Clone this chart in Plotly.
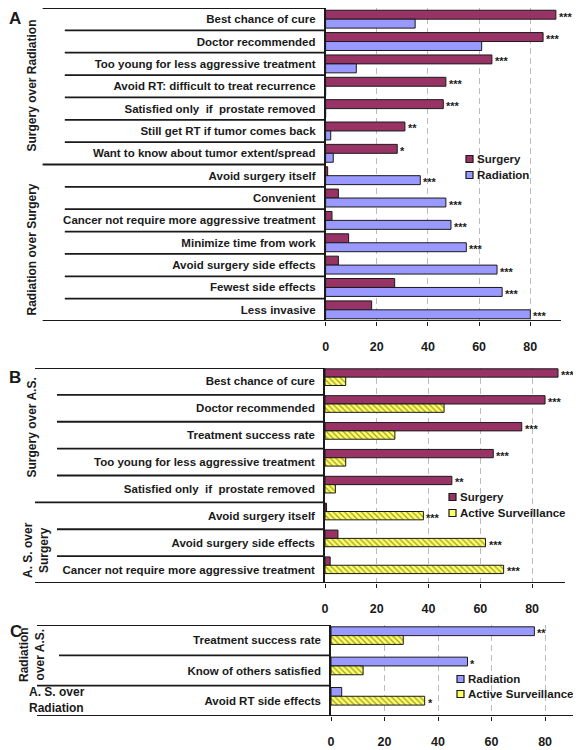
import plotly.graph_objects as go

# The page body has an 8px default margin, so the figure is drawn 8px in from the window edge.
PAGE_W, PAGE_H, BODY = 581, 750, 8
W, H = PAGE_W - BODY, PAGE_H - BODY
FONT = "Liberation Sans, Arial, sans-serif"
INK = "#1a1a1a"
SURG = "#993366"
RAD = "#9999FF"
ASC = "#FFFF66"

# ---------------- data ----------------
x_ticks = [0, 20, 40, 60, 80]

# Panel A: Surgery vs Radiation
a_cats = ["Best chance of cure", "Doctor recommended", "Too young for less aggressive treatment",
          "Avoid RT: difficult to treat recurrence", "Satisfied only  if  prostate removed",
          "Still get RT if tumor comes back", "Want to know about tumor extent/spread",
          "Avoid surgery itself", "Convenient", "Cancer not require more aggressive treatment",
          "Minimize time from work", "Avoid surgery side effects", "Fewest side effects", "Less invasive"]
a_surgery = [90, 85, 65, 47, 46, 31, 28, 0.8, 5, 2.5, 9, 5, 27, 18]
a_radiation = [35, 61, 12, 0, 0, 2, 3, 37, 47, 49, 55, 67, 69, 80]
a_surgery_sig = ["***", "***", "***", "***", "***", "**", "*", "", "", "", "", "", "", ""]
a_radiation_sig = ["", "", "", "", "", "", "", "***", "***", "***", "***", "***", "***", "***"]
a_groups = ["Surgery over Radiation", "Radiation over Surgery"]
a_group_sizes = [7, 7]

# Panel B: Surgery vs Active Surveillance
b_cats = ["Best chance of cure", "Doctor recommended", "Treatment success rate",
          "Too young for less aggressive treatment", "Satisfied only  if  prostate removed",
          "Avoid surgery itself", "Avoid surgery side effects", "Cancer not require more aggressive treatment"]
b_surgery = [90, 85, 76, 65, 49, 0.6, 5, 2]
b_as = [8, 46, 27, 8, 4, 38, 62, 69]
b_surgery_sig = ["***", "***", "***", "***", "**", "", "", ""]
b_as_sig = ["", "", "", "", "", "***", "***", "***"]
b_groups = ["Surgery over A.S.", "A. S. over<br>Surgery"]
b_group_sizes = [5, 3]

# Panel C: Radiation vs Active Surveillance
c_cats = ["Treatment success rate", "Know of others satisfied", "Avoid RT side effects"]
c_radiation = [76, 51, 4]
c_as = [27, 12, 35]
c_radiation_sig = ["**", "*", ""]
c_as_sig = ["", "", "*"]
c_groups = ["Radiation<br>over A.S.", "A. S. over<br>Radiation"]
c_group_sizes = [2, 1]


def px(x):
    return min(1.0, max(0.0, (x - BODY) / W))


def py(y):
    return min(1.0, max(0.0, 1 - (y - BODY) / H))


fig = go.Figure()
shapes = []
annotations = []

panels = [
    dict(key="", cats=a_cats, xdom=(325.6, 561), ydom=(8, 321), xmax=92,
         series=[("Surgery", a_surgery, a_surgery_sig, SURG, None, -0.40, 0.40),
                 ("Radiation", a_radiation, a_radiation_sig, RAD, None, 0.0, 0.40)],
         group_sizes=a_group_sizes, group_left=42.6, row_left=64.8,
         legend_x=466, legend_ys=[159, 175], letter=("A", 15, 19)),
    dict(key="2", cats=b_cats, xdom=(325, 565), ydom=(368, 583), xmax=92.7,
         series=[("Surgery", b_surgery, b_surgery_sig, SURG, None, -0.47, 0.31),
                 ("Active Surveillance", b_as, b_as_sig, ASC, "\\", -0.16, 0.31)],
         group_sizes=b_group_sizes, group_left=35, row_left=57,
         legend_x=449, legend_ys=[497, 513], letter=("B", 15, 378)),
    dict(key="3", cats=c_cats, xdom=(331, 574), ydom=(625, 716), xmax=90.8,
         series=[("Radiation", c_radiation, c_radiation_sig, RAD, None, -0.44, 0.29),
                 ("Active Surveillance", c_as, c_as_sig, ASC, "\\", -0.15, 0.29)],
         group_sizes=c_group_sizes, group_left=37, row_left=59,
         legend_x=457, legend_ys=[679, 694], letter=("C", 16, 631)),
]

for p in panels:
    k = p["key"]
    xa, ya = "x" + k, "y" + k
    n = len(p["cats"])
    for name, vals, sig, color, pat, off, wid in p["series"]:
        marker = dict(color=color, line=dict(color=INK, width=1))
        if pat:
            marker["pattern"] = dict(shape=pat, fgcolor="#3a3a00", bgcolor=color,
                                     size=4, solidity=0.3)
        fig.add_trace(go.Bar(y=p["cats"], x=vals, orientation="h", name=name,
                             marker=marker, offset=off, width=wid,
                             xaxis=xa, yaxis=ya, showlegend=False))
        for i, (v, s) in enumerate(zip(vals, sig)):
            if s:
                annotations.append(dict(x=v, y=i + off + wid / 2, xref=xa, yref=ya,
                                        text=s, showarrow=False, xanchor="left",
                                        yanchor="middle", xshift=1, yshift=-2,
                                        font=dict(family=FONT, size=11, color=INK, weight="bold")))
    x0, x1 = p["xdom"]
    y0, y1 = p["ydom"]
    fig.update_layout(**{
        "xaxis" + k: dict(domain=[px(x0), px(x1)], range=[0, p["xmax"]], anchor=ya,
                          automargin=False,
                          tickvals=x_ticks, ticks="outside", ticklen=4, tickcolor=INK,
                          showgrid=True, gridcolor="#bcbcbc", griddash="6px,4px", gridwidth=1,
                          zeroline=False, showline=False, ticklabelstandoff=10,
                          tickfont=dict(family=FONT, size=12.5, color=INK, weight="bold")),
        "yaxis" + k: dict(domain=[py(y1), py(y0)], type="category", categoryorder="array",
                          categoryarray=p["cats"], range=[n - 0.5, -0.5], anchor=xa,
                          automargin=False,
                          showline=True, linecolor=INK, linewidth=1.5, ticks="",
                          showgrid=False, ticklabelstandoff=6,
                          tickfont=dict(family=FONT, size=11.5, color=INK, weight="bold")),
    })
    # separators
    bounds = set()
    acc = 0
    for g in p["group_sizes"][:-1]:
        acc += g
        bounds.add(acc)
    line = dict(color=INK, width=1.8)
    shapes.append(dict(type="line", xref="paper", yref=ya, x0=px(p["group_left"]), x1=px(x0),
                       y0=-0.5, y1=-0.5, line=line))
    for i in range(1, n):
        left = p["group_left"] if i in bounds else p["row_left"]
        shapes.append(dict(type="line", xref="paper", yref=ya, x0=px(left), x1=px(x0),
                           y0=i - 0.5, y1=i - 0.5, line=line))
    shapes.append(dict(type="line", xref="paper", yref=ya, x0=px(p["group_left"]), x1=px(x1),
                       y0=n - 0.5, y1=n - 0.5, line=line))
    # legend (custom)
    for (name, vals, sig, color, pat, off, wid), ly in zip(p["series"], p["legend_ys"]):
        lx = p["legend_x"]
        shapes.append(dict(type="rect", xref="paper", yref="paper",
                           x0=px(lx), x1=px(lx + 7), y0=py(ly + 3.5), y1=py(ly - 3.5),
                           fillcolor=color, line=dict(color=INK, width=1.2)))
        annotations.append(dict(x=px(lx + 9), y=py(ly), xref="paper", yref="paper", text=name,
                                showarrow=False, xanchor="left", yanchor="middle",
                                font=dict(family=FONT, size=11.5, color=INK, weight="bold")))
    # panel letter
    L, lx, ly = p["letter"]
    annotations.append(dict(x=px(lx), y=py(ly), xref="paper", yref="paper", text=L,
                            showarrow=False, xanchor="center", yanchor="middle",
                            font=dict(family=FONT, size=17, color=INK, weight="bold")))

# group labels
gfont = dict(family=FONT, size=12, color=INK, weight="bold")
group_label_pos = [
    (a_groups[0], 31.5, 86, -90, "center"),
    (a_groups[1], 31.5, 250, -90, "center"),
    (b_groups[0], 31.5, 428, -90, "center"),
    (b_groups[1], 36, 550, -90, "center"),
    (c_groups[0], 32, 655, -90, "center"),
]
for t, gx, gy, ang, al in group_label_pos:
    annotations.append(dict(x=px(gx), y=py(gy), xref="paper", yref="paper", text=t,
                            textangle=ang, showarrow=False, xanchor="center", yanchor="middle",
                            align=al, font=gfont))
annotations.append(dict(x=px(27), y=py(700), xref="paper", yref="paper", text=c_groups[1],
                        showarrow=False, xanchor="left", yanchor="middle", align="left",
                        font=gfont))

fig.update_layout(width=W, height=H, autosize=False, margin=dict(l=0, r=0, t=0, b=0),
                  paper_bgcolor="white", plot_bgcolor="white", barmode="overlay",
                  showlegend=False, shapes=shapes, annotations=annotations,
                  font=dict(family=FONT, color=INK))

fig.write_html("out.html")
